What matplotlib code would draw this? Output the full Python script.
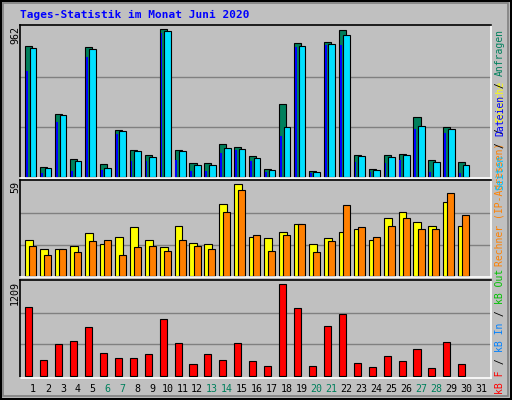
import numpy as np
import matplotlib
matplotlib.use("Agg")
import matplotlib.pyplot as plt
from matplotlib.patches import Rectangle

days = list(range(1, 32))
weekend = [6, 7, 13, 14, 20, 21, 27, 28]

hits = [838, 62, 400, 111, 832, 81, 299, 171, 139, 945, 171, 88, 88, 209, 190,
        133, 49, 466, 857, 36, 864, 941, 139, 49, 139, 145, 383, 107, 319, 94, 0]
files = [823, 53, 393, 98, 817, 56, 291, 162, 126, 932, 162, 73, 73, 182, 177,
         118, 41, 316, 838, 28, 851, 909, 130, 41, 126, 139, 323, 92, 306, 75, 0]
pages = [678, 21, 351, 36, 767, 43, 274, 100, 100, 923, 107, 36, 36, 150, 173,
         100, 30, 261, 832, 24, 844, 844, 92, 28, 86, 107, 306, 28, 278, 21, 0]
visits = [22.5, 16.9, 16.9, 18.7, 26.8, 20.0, 24.3, 30.6, 22.5, 18.1, 31.2, 20.6,
          20.0, 45.0, 57.4, 24.3, 23.7, 27.5, 32.5, 20.0, 23.7, 27.5, 29.3, 22.5,
          36.2, 40.0, 33.7, 31.2, 46.2, 31.2, 0]
sites = [18.7, 13.1, 16.9, 15.0, 21.9, 22.5, 13.1, 18.1, 18.7, 15.6, 22.5, 18.7,
         16.9, 40.0, 53.7, 25.6, 15.6, 25.6, 32.5, 15.0, 21.9, 44.3, 30.6, 24.3,
         31.2, 36.2, 29.3, 29.3, 51.8, 38.1, 0]
kbytes = [879, 197, 403, 442, 622, 287, 223, 223, 274, 725, 416, 146, 274, 197, 416,
          184, 120, 1175, 866, 120, 634, 789, 159, 107, 249, 184, 339, 94, 429, 146, 0]
max_hits, max_visits, max_kb = 962, 59, 1209

BG = "#C0C0C0"
W, H = 512, 400
fig = plt.figure(figsize=(W / 100, H / 100), dpi=100, facecolor=BG)
mono = "DejaVu Sans Mono"


def px_axes(x0, y0, x1, y1):
    return fig.add_axes([x0 / W, 1 - y1 / H, (x1 - x0) / W, (y1 - y0) / H])


def style(ax, ymin, ymax, top):
    ax.set_facecolor(BG)
    ax.set_xlim(0.13, 31.67)
    ax.set_ylim(ymin, ymax)
    for f in (1 / 3, 2 / 3):
        ax.axhline(top * f, color="#808080", lw=1, zorder=0)
    ax.set_xticks([])
    ax.set_yticks([])
    ax.spines["top"].set_color("black")
    ax.spines["left"].set_color("black")
    ax.spines["bottom"].set_color("white")
    ax.spines["right"].set_color("white")
    for s in ax.spines.values():
        s.set_linewidth(1.2)


def bars(ax, offset, values, width, color, edge=True):
    xs = [d + offset for d, v in zip(days, values) if v > 0]
    vs = [v for v in values if v > 0]
    if edge:
        ax.bar(xs, vs, width=width, color=color, edgecolor="black", linewidth=0.8, align="edge")
    else:
        ax.bar(xs, vs, width=width, color=color, edgecolor="none", align="edge")


ax1 = px_axes(20, 24.7, 491, 178)
style(ax1, -8.3, 974.8, max_hits)
bars(ax1, -0.52, hits, 0.47, "#00805C")
bars(ax1, -0.46, pages, 0.12, "#0000FF", edge=False)
bars(ax1, -0.22, files, 0.45, "#00E0FF")

ax2 = px_axes(20, 180, 491, 277.3)
style(ax2, -0.62, 60.06, max_visits)
bars(ax2, -0.52, visits, 0.53, "#FFFF00")
bars(ax2, -0.25, sites, 0.47, "#FF8000")

ax3 = px_axes(20, 280.3, 491, 378)
style(ax3, -29.6, 1227, max_kb)
bars(ax3, -0.52, kbytes, 0.47, "#FF0000")

# outer frame
fig.patches.append(Rectangle((1 / W, 1 / H), 1 - 2 / W, 1 - 2 / H, transform=fig.transFigure,
                             fill=False, edgecolor="black", lw=1.5))
fig.patches.append(Rectangle((3 / W, 4 / H), 1 - 7 / W, 1 - 7 / H, transform=fig.transFigure,
                             fill=False, edgecolor="#808080", lw=1.2))

fig.text(20 / W, 1 - 15 / H, "Tages-Statistik im Monat Juni 2020", color="#0000FF",
         family=mono, fontweight="bold", fontsize=8, va="center", ha="left")

for lab, py in (("962", 26), ("59", 181), ("1209", 281)):
    fig.text(15 / W, 1 - py / H, lab, rotation=90, family=mono, fontsize=7.2,
             ha="center", va="top")

for d in days:
    px = 33 + (d - 1) * 14.93
    fig.text(px / W, 1 - 389 / H, str(d), family=mono, fontsize=7.2, ha="center",
             va="center", color="#00805C" if d in weekend else "black")

CH = 6.0


def vlabel(segments, start_py, upward=True):
    pos = start_py
    if not upward:
        total = sum(len(t) for t, _ in segments)
        pos = start_py + total * CH
    for t, c in segments:
        fig.text(500 / W, 1 - pos / H, t, rotation=90, family=mono, fontsize=7.0,
                 color=c, ha="center", va="bottom")
        pos -= len(t) * CH


vlabel([("kB F", "#FF0000"), (" / ", "black"), ("kB In", "#0080FF"), (" / ", "black"),
        ("kB Out", "#00C000")], 394)
vlabel([("Rechner (IP-Adressen)", "#FF8000"), (" / ", "black"), ("Besuche", "#FFFF00")], 266)
vlabel([("Seiten", "#00C0FF"), (" / ", "black"), ("Dateien", "#0000FF"), (" / ", "black"),
        ("Anfragen", "#00805C")], 28, upward=False)

fig.savefig("out.png", dpi=100, facecolor=BG)
